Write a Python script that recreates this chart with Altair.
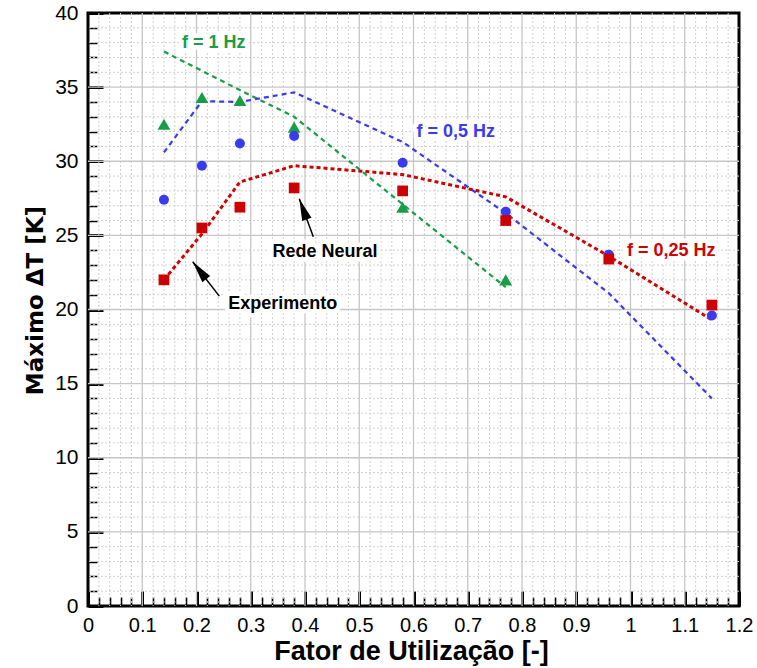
import altair as alt
import pandas as pd

# ---------------- data ----------------
# Experimental points
x_exp_1hz = [0.14, 0.21, 0.28, 0.38, 0.58, 0.77]
exp_1hz = [32.5, 34.3, 34.1, 32.3, 26.9, 22.0]
x_exp = [0.14, 0.21, 0.28, 0.38, 0.58, 0.77, 0.96, 1.15]
exp_05hz = [27.4, 29.7, 31.2, 31.7, 29.9, 26.6, 23.7, 19.6]
exp_025hz = [22.0, 25.5, 26.9, 28.2, 28.0, 26.0, 23.4, 20.3]

# Neural network predictions (dashed lines)
x_nn_1hz = [0.14, 0.21, 0.28, 0.38, 0.58, 0.77]
nn_1hz = [37.4, 36.1, 34.8, 33.0, 27.1, 21.5]
x_nn = [0.14, 0.21, 0.28, 0.38, 0.58, 0.77, 0.96, 1.15]
nn_05hz = [30.6, 34.05, 34.0, 34.65, 31.3, 26.5, 21.1, 14.0]
nn_025hz = [22.0, 25.1, 28.6, 29.7, 29.1, 27.6, 23.6, 19.3]

# Tick values
x_major = [0, 0.1, 0.2, 0.3, 0.4, 0.5, 0.6, 0.7, 0.8, 0.9, 1, 1.1, 1.2]
y_major = [0, 5, 10, 15, 20, 25, 30, 35, 40]
x_minor = [round(i * 0.02, 2) for i in range(61) if i % 5 != 0]
y_minor = [i for i in range(41) if i % 5 != 0]
x_all = sorted(x_major + x_minor)
y_all = sorted(y_major + y_minor)

# Annotations
label_text = ["f = 1 Hz", "f = 0,5 Hz", "f = 0,25 Hz", "Rede Neural", "Experimento"]
label_x = [0.232, 0.678, 1.075, 0.437, 0.359]
label_y = [38.0, 31.95, 23.95, 23.9, 20.4]
label_color = ["#1a9c48", "#3a3af0", "#cc0000", "black", "black"]

arrow_tip_x = [0.3895, 0.193]
arrow_tip_y = [27.47, 23.22]
arrow_tail_x = [0.4153, 0.242]
arrow_tail_y = [24.90, 20.90]
arrow_angle = [340, 322]

GREEN, BLUE, RED = "#1a9c48", "#3a3af0", "#cc0000"
W, H = 651, 593
XMAX, YMAX = 1.2, 40.0
TICK = 15  # major tick length (px); axes are shifted inside by this amount

xs = alt.Scale(domain=[0, XMAX], nice=False, zero=False)
ys = alt.Scale(domain=[0, YMAX], nice=False, zero=False)

x_is_major = "abs(datum.value * 10 - round(datum.value * 10)) < 0.001"
y_is_major = "abs(datum.value / 5 - round(datum.value / 5)) < 0.001"

x_axis = alt.Axis(
    values=x_all, format="~g", title="Fator de Utilização [-]",
    labelExpr=f"{x_is_major} ? datum.label : ''",
    grid=False, domain=False, offset=-TICK,
    ticks=True, tickSize=TICK, tickColor="black",
    tickWidth=alt.condition(x_is_major, alt.value(3), alt.value(1.6)),
    tickDash=alt.condition(x_is_major, alt.value([40, 0]), alt.value([0, 6, 9, 40])),
    labelFont="Liberation Sans", labelFontSize=20, labelColor="black",
    labelPadding=25, labelBaseline="alphabetic", labelFlush=False, labelOverlap=False,
    titleFont="Liberation Sans", titleFontSize=27, titleFontWeight="bold",
    titleColor="black", titleX=323, titleY=53.5 + TICK, titleBaseline="alphabetic",
    titleAlign="center",
)
y_axis = alt.Axis(
    values=y_all, format="~g", title="Máximo ΔT [K]",
    labelExpr=f"{y_is_major} ? datum.label : ''",
    grid=False, domain=False, offset=-TICK,
    ticks=True, tickSize=TICK, tickColor="black",
    tickWidth=alt.condition(y_is_major, alt.value(3), alt.value(1.6)),
    tickDash=alt.condition(y_is_major, alt.value([40, 0]), alt.value([0, 6, 9, 40])),
    labelFont="Liberation Sans", labelFontSize=21, labelColor="black",
    labelPadding=10, labelFlush=False, labelOverlap=False,
    titleFont="DejaVu Sans", titleFontSize=23, titleFontWeight="bold",
    titleColor="black", titleX=-46 - TICK, titleY=287, titleAngle=270,
    titleBaseline="alphabetic", titleAlign="center",
)


def X(f):
    return alt.X(f"{f}:Q", scale=xs, axis=x_axis)


def Y(f):
    return alt.Y(f"{f}:Q", scale=ys, axis=y_axis)


def series(xv, yv):
    return pd.DataFrame({"x": xv, "y": yv})


# grid lines
gx_minor = alt.Chart(pd.DataFrame({"gv": x_minor})).mark_rule(
    color="#cfcfcf", strokeWidth=1, strokeDash=[2, 2]).encode(x=X("gv"))
gy_minor = alt.Chart(pd.DataFrame({"gv": y_minor})).mark_rule(
    color="#cfcfcf", strokeWidth=1, strokeDash=[2, 2]).encode(y=Y("gv"))
gx_major = alt.Chart(pd.DataFrame({"gv": x_major[1:-1]})).mark_rule(
    color="#c6c6c6", strokeWidth=1.3).encode(x=X("gv"))
gy_major = alt.Chart(pd.DataFrame({"gv": y_major[1:-1]})).mark_rule(
    color="#c6c6c6", strokeWidth=1.3).encode(y=Y("gv"))

labels_df = pd.DataFrame({"lx": label_x, "ly": label_y, "t": label_text, "c": label_color})
halo = alt.Chart(labels_df).mark_text(
    font="Liberation Sans", fontSize=18, fontWeight="bold", align="center",
    baseline="middle", fill="white", stroke="white", strokeWidth=9, strokeJoin="round",
).encode(x=X("lx"), y=Y("ly"), text="t:N")

# neural network lines
l1 = alt.Chart(series(x_nn_1hz, nn_1hz)).mark_line(
    color=GREEN, strokeWidth=2.2, strokeDash=[5, 4]).encode(x=X("x"), y=Y("y"))
l05 = alt.Chart(series(x_nn, nn_05hz)).mark_line(
    color=BLUE, strokeWidth=2.2, strokeDash=[5, 4]).encode(x=X("x"), y=Y("y"))
l025 = alt.Chart(series(x_nn, nn_025hz)).mark_line(
    color=RED, strokeWidth=3, strokeDash=[4, 3]).encode(x=X("x"), y=Y("y"))

# experimental points
p1 = alt.Chart(series(x_exp_1hz, exp_1hz)).mark_point(
    shape="triangle-up", filled=True, size=165, color=GREEN, opacity=1
).encode(x=X("x"), y=Y("y"))
p05 = alt.Chart(series(x_exp, exp_05hz)).mark_circle(
    size=100, color=BLUE, opacity=1).encode(x=X("x"), y=Y("y"))
p025 = alt.Chart(series(x_exp, exp_025hz)).mark_square(
    size=115, color=RED, opacity=1).encode(x=X("x"), y=Y("y"))

# arrows
arrows_df = pd.DataFrame({"ax": arrow_tip_x, "ay": arrow_tip_y,
                          "ax2": arrow_tail_x, "ay2": arrow_tail_y, "ang": arrow_angle})
arrow_lines = alt.Chart(arrows_df).mark_rule(color="black", strokeWidth=1.5).encode(
    x=X("ax"), y=Y("ay"), x2="ax2:Q", y2="ay2:Q")
arrow_heads = alt.Chart(arrows_df).mark_point(
    shape="M0,0L0.45,2L-0.45,2Z", filled=True, color="black", size=484, opacity=1
).encode(x=X("ax"), y=Y("ay"), angle=alt.Angle("ang:Q", scale=None))

texts = alt.Chart(labels_df).mark_text(
    font="Liberation Sans", fontSize=18, fontWeight="bold", align="center", baseline="middle"
).encode(x=X("lx"), y=Y("ly"), text="t:N", color=alt.Color("c:N", scale=None))

chart = alt.layer(
    gx_minor, gy_minor, gx_major, gy_major,
    halo, l1, l05, l025, p1, p05, p025,
    arrow_lines, arrow_heads, texts,
).properties(
    width=W, height=H,
    padding={"left": 88, "top": 13, "right": 18, "bottom": 62},
    autosize=alt.AutoSizeParams(type="none"),
    background="white",
).configure_view(stroke="black", strokeWidth=3)

chart.save("out.html", embed_options={"renderer": "svg", "actions": False})
